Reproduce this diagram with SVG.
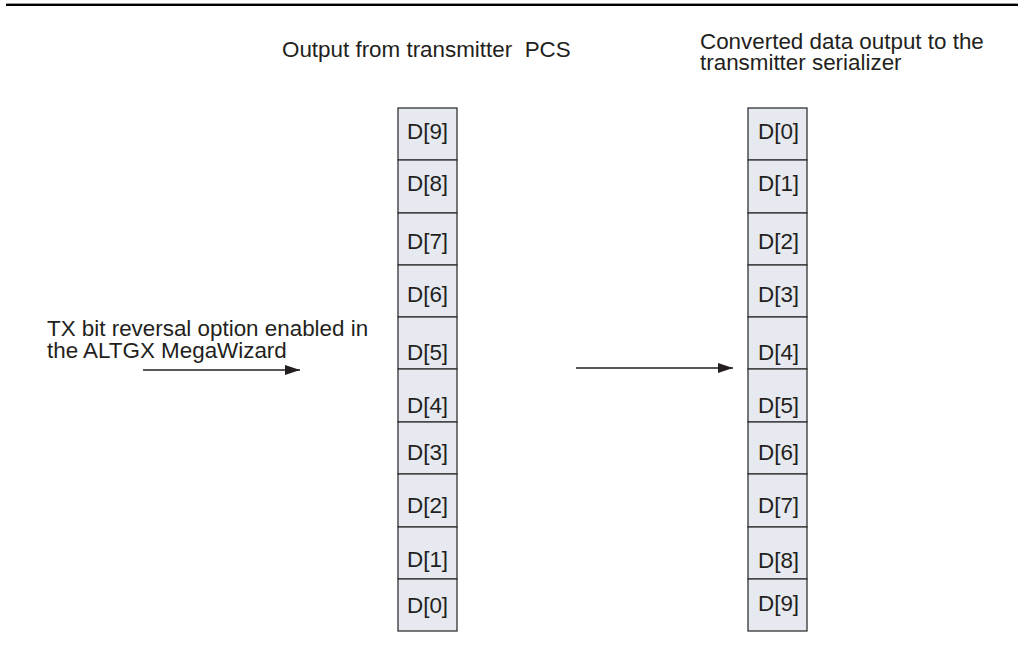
<svg xmlns="http://www.w3.org/2000/svg" width="1018" height="645" viewBox="0 0 1018 645">
<style>
text{font-family:"Liberation Sans",Arial,sans-serif;font-size:22.4px;fill:#231f20;white-space:pre}
.cell{fill:#e6e9ef;stroke:#333;stroke-width:1.3}
.conn{stroke:#231f20;stroke-width:1.5;fill:none}
</style>
<defs>
<marker id="ah" markerWidth="15" markerHeight="10" refX="15" refY="5" orient="auto" markerUnits="userSpaceOnUse">
<path d="M0,0 L15,5 L0,10 Z" fill="#231f20"/>
</marker>
</defs>
<rect width="1018" height="645" fill="#fff"/>
<line x1="6" y1="3.5" x2="1018" y2="3.5" stroke="#999" stroke-width="1"/>
<line x1="6" y1="5" x2="1018" y2="5" stroke="#000" stroke-width="2"/>
<g id="headers">
<text x="282" y="57">Output from transmitter  PCS</text>
<text x="700" y="49">Converted data output to the</text>
<text x="700" y="70">transmitter serializer</text>
<text x="47" y="336">TX bit reversal option enabled in</text>
<text x="47" y="358">the ALTGX MegaWizard</text>
</g>
<g id="left-column">
<g id="L9"><rect class="cell" x="398" y="108" width="59" height="52"/><text x="407" y="139">D[9]</text></g>
<g id="L8"><rect class="cell" x="398" y="160" width="59" height="53"/><text x="407" y="191">D[8]</text></g>
<g id="L7"><rect class="cell" x="398" y="213" width="59" height="52"/><text x="407" y="249">D[7]</text></g>
<g id="L6"><rect class="cell" x="398" y="265" width="59" height="52"/><text x="407" y="302">D[6]</text></g>
<g id="L5"><rect class="cell" x="398" y="317" width="59" height="52"/><text x="407" y="360">D[5]</text></g>
<g id="L4"><rect class="cell" x="398" y="369" width="59" height="53"/><text x="407" y="413">D[4]</text></g>
<g id="L3"><rect class="cell" x="398" y="422" width="59" height="52"/><text x="407" y="460">D[3]</text></g>
<g id="L2"><rect class="cell" x="398" y="474" width="59" height="53"/><text x="407" y="513">D[2]</text></g>
<g id="L1"><rect class="cell" x="398" y="527" width="59" height="52"/><text x="407" y="567">D[1]</text></g>
<g id="L0"><rect class="cell" x="398" y="579" width="59" height="52"/><text x="407" y="613">D[0]</text></g>
</g>
<g id="right-column">
<g id="R0"><rect class="cell" x="748" y="108" width="59" height="52"/><text x="758" y="139">D[0]</text></g>
<g id="R1"><rect class="cell" x="748" y="160" width="59" height="53"/><text x="758" y="191">D[1]</text></g>
<g id="R2"><rect class="cell" x="748" y="213" width="59" height="52"/><text x="758" y="249">D[2]</text></g>
<g id="R3"><rect class="cell" x="748" y="265" width="59" height="52"/><text x="758" y="302">D[3]</text></g>
<g id="R4"><rect class="cell" x="748" y="317" width="59" height="52"/><text x="758" y="360">D[4]</text></g>
<g id="R5"><rect class="cell" x="748" y="369" width="59" height="53"/><text x="758" y="413">D[5]</text></g>
<g id="R6"><rect class="cell" x="748" y="422" width="59" height="52"/><text x="758" y="460">D[6]</text></g>
<g id="R7"><rect class="cell" x="748" y="474" width="59" height="53"/><text x="758" y="513">D[7]</text></g>
<g id="R8"><rect class="cell" x="748" y="527" width="59" height="52"/><text x="758" y="568">D[8]</text></g>
<g id="R9"><rect class="cell" x="748" y="579" width="59" height="52"/><text x="758" y="611">D[9]</text></g>
</g>
<g id="connectors">
<line class="conn" x1="143" y1="370" x2="300" y2="370" marker-end="url(#ah)"/>
<line class="conn" x1="576" y1="368" x2="733" y2="368" marker-end="url(#ah)"/>
</g>
</svg>
